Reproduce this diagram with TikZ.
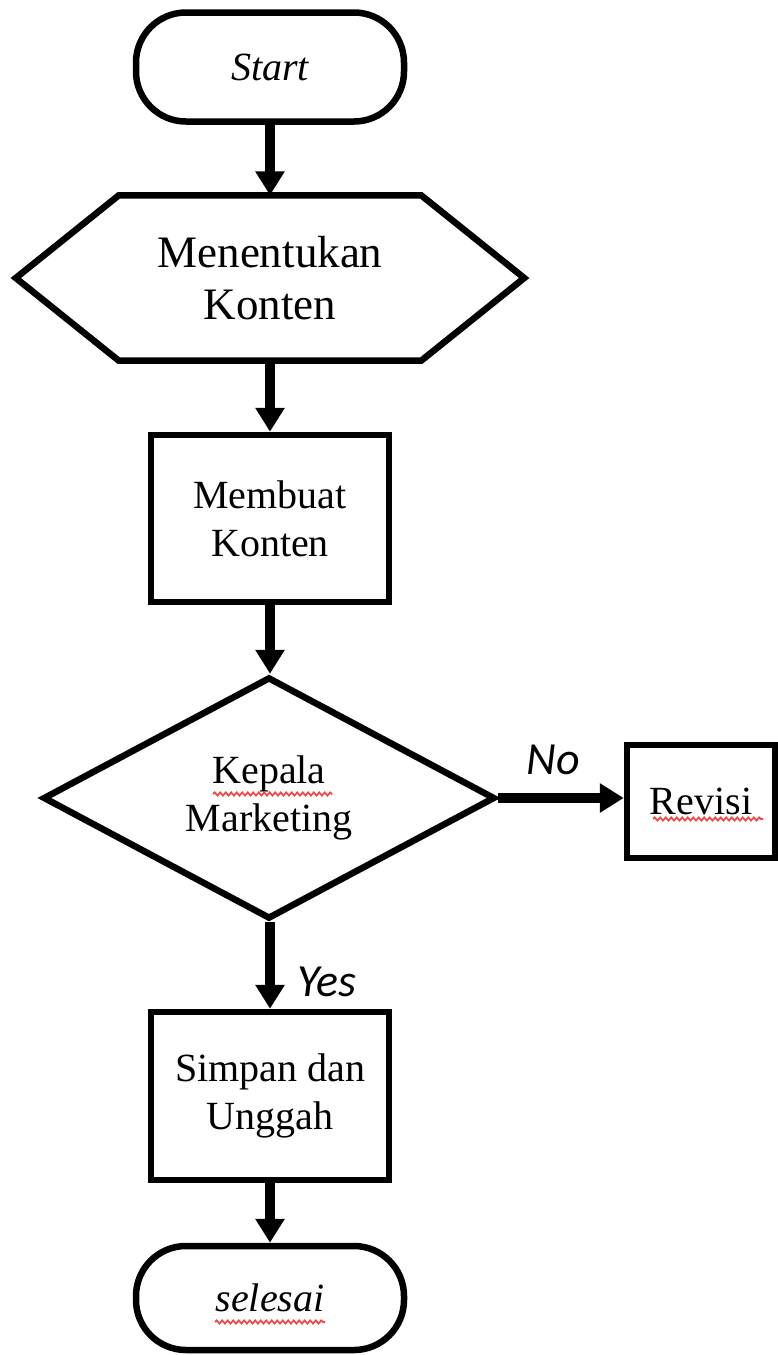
\documentclass[tikz,border=0pt]{standalone}
\usepackage{fontspec}
\setmainfont{Liberation Serif}
\newfontfamily\labelfont{Carlito}
\usetikzlibrary{arrows.meta,shapes.geometric,calc,decorations.pathmorphing}
\definecolor{spellred}{HTML}{F04848}
\tikzset{
  box/.style={draw, line width=6.5pt, align=center, inner sep=0pt,
    font=\fontsize{40}{48}\selectfont},
  terminal/.style={box, rounded corners=50pt, minimum width=268pt},
  process/.style={box, minimum width=238pt, minimum height=167pt},
  decision/.style={box, diamond, aspect=2, minimum width=452pt, minimum height=242pt},
  flow/.style={line width=9.5pt, -{Triangle[width=28pt,length=24pt]}},
  answer/.style={font=\labelfont\itshape\fontsize{46}{54}\selectfont},
  squiggle/.style={spellred, line width=1.7pt,
    decorate, decoration={snake, amplitude=1.6pt, segment length=5.5pt}}
}
\begin{document}
\begin{tikzpicture}[x=1pt,y=-1pt]
\useasboundingbox (0,0) rectangle (778,1355);

% start terminal
\node[terminal, minimum height=109pt] (start) at (270,67) {\itshape Start};

% preparation (hexagon): text holder plus outline
\node[align=center, inner sep=0pt, minimum width=302pt, minimum height=165pt,
      font=\fontsize{45}{52}\selectfont] (hex) at (270,278) {Menentukan\\Konten};
\draw[line width=6.5pt, line join=miter]
  (hex.north west) -- (hex.north east) -- ($(hex.east)+(103,0)$)
  -- (hex.south east) -- (hex.south west) -- ($(hex.west)+(-103,0)$) -- cycle;

% process steps
\node[process] (buat) at (270,518.5) {Membuat\\Konten};
\node[decision] (cek) at (269,798) {Kepala\\Marketing};
\node[box, minimum width=148pt, minimum height=113pt] (revisi) at (701,801.5) {Revisi};
\node[process, minimum height=168pt] (simpan) at (270,1096) {Simpan dan\\Unggah};

% end terminal
\node[terminal, minimum height=104pt] (end) at (270,1298) {\itshape selesai};

% connectors
\draw[flow] (start.south) -- (hex.north);
\draw[flow] (hex.south) -- (buat.north);
\draw[flow] (buat.north |- buat.south) -- (buat.south |- cek.north);
\draw[flow] (cek.east) -- (revisi.west |- cek.east);
\draw[flow] (simpan.north |- cek.south) -- (simpan.north);
\draw[flow] (simpan.south) -- (end.north);

% branch labels
\node[answer] (no) at (553,760) {No};
\node[answer] (yes) at (327,982) {Yes};

% spell-check underlines
\draw[squiggle] (213,794) -- (332,794);
\draw[squiggle] (653,819) -- (763,819);
\draw[squiggle] (215,1322) -- (325,1322);
\end{tikzpicture}
\end{document}
